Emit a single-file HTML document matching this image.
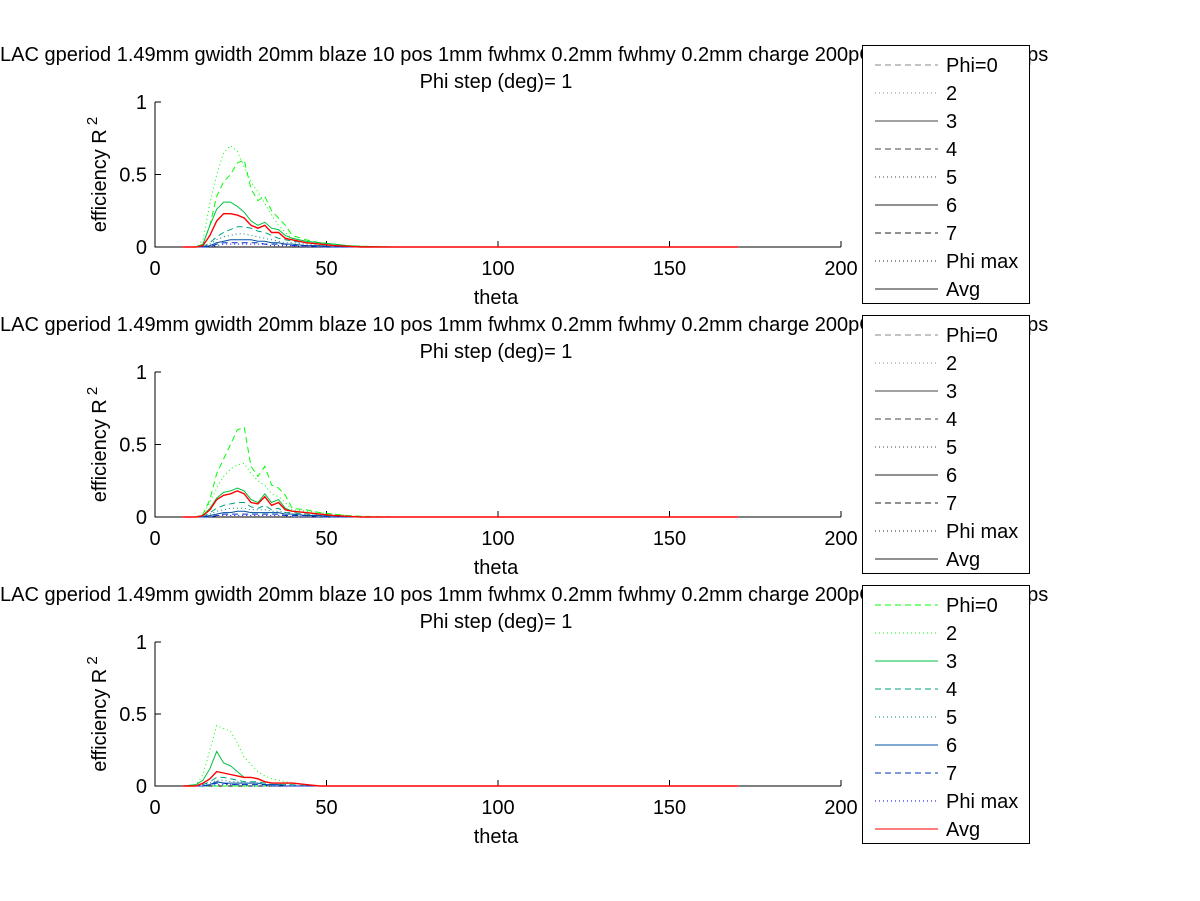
<!DOCTYPE html>
<html><head><meta charset="utf-8"><style>
html,body{margin:0;padding:0;background:#fff;}
svg{display:block;font-family:"Liberation Sans",sans-serif;}
</style></head><body>
<svg id="fig" width="1200" height="901" viewBox="0 0 1200 901" xmlns="http://www.w3.org/2000/svg"></svg>
<script>
const theta = [8,12,14,16,18,20,22,24,26,28,30,32,34,36,38,40,44,48,52,56,60,70,170];
const seriesNames = ["Phi=0","2","3","4","5","6","7","Phi max","Avg"];
const xTicks = [0,50,100,150,200];
const yTicks = [0,0.5,1];
const yTickLabels = ["0","0.5","1"];
// panel 1
const p1_phi0 = [0,0,0.02,0.15,0.35,0.45,0.5,0.58,0.6,0.4,0.32,0.35,0.25,0.2,0.15,0.08,0.05,0.03,0.02,0.01,0.005,0,0];
const p1_phi2 = [0,0,0.05,0.3,0.5,0.65,0.7,0.66,0.55,0.45,0.38,0.3,0.22,0.15,0.1,0.06,0.04,0.03,0.02,0.01,0,0,0];
const p1_phi3 = [0,0,0.02,0.15,0.26,0.31,0.31,0.28,0.24,0.18,0.15,0.17,0.13,0.12,0.08,0.06,0.04,0.03,0.02,0.01,0.005,0,0];
const p1_phi4 = [0,0,0,0.03,0.07,0.1,0.12,0.14,0.14,0.13,0.11,0.1,0.08,0.06,0.05,0.04,0.03,0.02,0.01,0,0,0,0];
const p1_phi5 = [0,0,0,0.02,0.05,0.07,0.08,0.09,0.09,0.08,0.07,0.06,0.05,0.04,0.03,0.03,0.02,0.01,0.01,0,0,0,0];
const p1_phi6 = [0,0,0,0.01,0.03,0.04,0.05,0.05,0.05,0.05,0.04,0.04,0.03,0.03,0.02,0.02,0.01,0.01,0,0,0,0,0];
const p1_phi7 = [0,0,0,0,0.02,0.03,0.03,0.03,0.03,0.03,0.03,0.02,0.02,0.02,0.02,0.01,0.01,0,0,0,0,0,0];
const p1_max = [0,0,0,0,0.01,0.02,0.02,0.02,0.02,0.02,0.02,0.02,0.01,0.01,0.01,0.01,0,0,0,0,0,0,0];
const p1_avg = [0,0,0.01,0.08,0.18,0.23,0.23,0.22,0.2,0.15,0.13,0.15,0.1,0.1,0.06,0.05,0.03,0.02,0.01,0.005,0,0,0];
// panel 2
const p2_phi0 = [0,0,0.02,0.12,0.3,0.4,0.5,0.6,0.62,0.35,0.28,0.35,0.22,0.2,0.15,0.06,0.05,0.03,0.02,0.01,0.005,0,0];
const p2_phi2 = [0,0,0.02,0.1,0.2,0.28,0.33,0.36,0.37,0.3,0.25,0.22,0.16,0.14,0.1,0.05,0.04,0.03,0.02,0.01,0,0,0];
const p2_phi3 = [0,0,0.01,0.06,0.13,0.17,0.18,0.2,0.18,0.12,0.1,0.16,0.1,0.12,0.06,0.04,0.03,0.02,0.01,0.005,0,0,0];
const p2_phi4 = [0,0,0,0.03,0.06,0.08,0.09,0.1,0.1,0.07,0.06,0.08,0.05,0.06,0.03,0.03,0.02,0.01,0.01,0,0,0,0];
const p2_phi5 = [0,0,0,0.02,0.04,0.05,0.06,0.06,0.06,0.05,0.05,0.05,0.04,0.04,0.03,0.02,0.02,0.01,0,0,0,0,0];
const p2_phi6 = [0,0,0,0.01,0.02,0.03,0.03,0.04,0.04,0.03,0.03,0.03,0.03,0.03,0.02,0.02,0.01,0.01,0,0,0,0,0];
const p2_phi7 = [0,0,0,0,0.01,0.02,0.02,0.02,0.02,0.02,0.02,0.02,0.02,0.02,0.01,0.01,0.01,0,0,0,0,0,0];
const p2_max = [0,0,0,0,0.01,0.01,0.01,0.01,0.01,0.01,0.01,0.01,0.01,0.01,0.01,0,0,0,0,0,0,0,0];
const p2_avg = [0,0,0.01,0.05,0.12,0.15,0.16,0.18,0.16,0.1,0.09,0.14,0.08,0.1,0.05,0.04,0.03,0.02,0.01,0.005,0,0,0];
// panel 3
const p3_phi0 = [0,0,0,0,0,0,0,0,0,0,0,0,0,0,0,0,0,0,0,0,0,0,0];
const p3_phi2 = [0,0.01,0.08,0.25,0.42,0.4,0.38,0.3,0.2,0.15,0.1,0.07,0.05,0.04,0.03,0.02,0.01,0,0,0,0,0,0];
const p3_phi3 = [0,0.01,0.04,0.12,0.24,0.16,0.14,0.1,0.06,0.06,0.05,0.03,0.02,0.02,0.02,0.02,0.01,0,0,0,0,0,0];
const p3_phi4 = [0,0,0.01,0.03,0.06,0.06,0.05,0.04,0.03,0.03,0.03,0.02,0.01,0.01,0.01,0.01,0,0,0,0,0,0,0];
const p3_phi5 = [0,0,0.01,0.02,0.04,0.04,0.03,0.03,0.02,0.02,0.02,0.01,0.01,0.01,0.01,0,0,0,0,0,0,0,0];
const p3_phi6 = [0,0,0,0.01,0.03,0.02,0.02,0.02,0.02,0.02,0.02,0.01,0.01,0.01,0,0,0,0,0,0,0,0,0];
const p3_phi7 = [0,0,0,0.01,0.02,0.02,0.01,0.01,0.01,0.01,0.01,0.01,0,0,0,0,0,0,0,0,0,0,0];
const p3_max = [0,0,0,0,0.01,0.01,0.01,0.01,0.01,0,0,0,0,0,0,0,0,0,0,0,0,0,0];
const p3_avg = [0,0,0.02,0.05,0.1,0.09,0.08,0.07,0.06,0.06,0.05,0.03,0.02,0.02,0.02,0.02,0.01,0,0,0,0,0,0];

const panels = [
  [p1_phi0,p1_phi2,p1_phi3,p1_phi4,p1_phi5,p1_phi6,p1_phi7,p1_max,p1_avg],
  [p2_phi0,p2_phi2,p2_phi3,p2_phi4,p2_phi5,p2_phi6,p2_phi7,p2_max,p2_avg],
  [p3_phi0,p3_phi2,p3_phi3,p3_phi4,p3_phi5,p3_phi6,p3_phi7,p3_max,p3_avg]
];
const colors = ["#00ff00","#00ff00","#00c040","#00a080","#008080","#0050a0","#0030c0","#0000ff","#ff0000"];
const dashes = ["6,4","1,3","","6,4","1,3","","6,4","1,3",""];
const legendColors = [
  ["#888","#888","#444","#444","#444","#222","#222","#222","#222"],
  ["#888","#888","#444","#444","#444","#222","#222","#222","#222"],
  colors
];
const NS = "http://www.w3.org/2000/svg";
const svg = document.getElementById("fig");
function mk(tag, attrs, parent){const e=document.createElementNS(NS,tag);for(const k in attrs)e.setAttribute(k,attrs[k]);(parent||svg).appendChild(e);return e;}
const X0=155,X1=841;
const tops=[102,372,642],bots=[247,517,786];
const legTops=[45,315,585];
const FS=20;
const titleText="LAC gperiod 1.49mm gwidth 20mm blaze 10 pos 1mm fwhmx 0.2mm fwhmy 0.2mm charge 200pC bunch length 0.1ps";
panels.forEach((series,pi)=>{
  const top=tops[pi],bot=bots[pi];
  const xs=v=>X0+(v-0)/(200-0)*(X1-X0);
  const ys=v=>bot-(v-0)/(1-0)*(bot-top);
  const g=mk("g",{});
  
  
  const t1=mk("text",{x:0,y:top-41,"font-size":FS},g);
  
  
  t1.textContent=titleText;
  const t2=mk("text",{x:496,y:top-14,"font-size":FS,"text-anchor":"middle"},g);
  
  
  t2.textContent="Phi step (deg)= 1";
  const ax=mk("path",{d:`M${X0},${top}V${bot}H${X1}`,fill:"none",stroke:"#000","stroke-width":1},g);
  
  
  xTicks.forEach(v=>{
    const tk=mk("line",{x1:xs(v),x2:xs(v),y1:bot,y2:bot-6,stroke:"#000"},g);
    
    
    const tl=mk("text",{x:xs(v),y:bot+28,"font-size":FS,"text-anchor":"middle"},g);
    
    
    tl.textContent=String(v);
  });
  yTicks.forEach((v,i)=>{
    const tk=mk("line",{x1:X0,x2:X0+6,y1:ys(v),y2:ys(v),stroke:"#000"},g);
    
    
    const tl=mk("text",{x:X0-8,y:ys(v)+7,"font-size":FS,"text-anchor":"end"},g);
    
    
    tl.textContent=yTickLabels[i];
  });
  const xl=mk("text",{x:496,y:bot+57,"font-size":FS,"text-anchor":"middle"},g);
  
  
  xl.textContent="theta";
  const yl=mk("text",{transform:`translate(106,${(top+bot)/2}) rotate(-90)`,"font-size":FS,"text-anchor":"middle"},g);
  
  
  yl.innerHTML='efficiency R<tspan dy="-9" font-size="15"> 2</tspan>';
  series.forEach((vals,si)=>{
    const d=vals.map((v,i)=>(i?"L":"M")+xs(theta[i]).toFixed(1)+","+ys(v).toFixed(1)).join("");
    const p=mk("path",{d,fill:"none",stroke:colors[si],"stroke-width":si===8?1.4:1,"stroke-dasharray":dashes[si]},g);
    
    
  });
  const lt=legTops[pi];
  const lg=mk("g",{},g);
  
  
  mk("rect",{x:862.5,y:lt+0.5,width:167,height:258,fill:"#fff",stroke:"#000"},lg);
  seriesNames.forEach((n,si)=>{
    const yy=lt+20+si*28;
    const ln=mk("line",{x1:875,x2:938,y1:yy,y2:yy,stroke:legendColors[pi][si],"stroke-dasharray":dashes[si]},lg);
    
    
    const tx=mk("text",{x:946,y:yy+7,"font-size":FS},lg);
    
    
    tx.textContent=n;
  });
});
</script>
</body></html>
